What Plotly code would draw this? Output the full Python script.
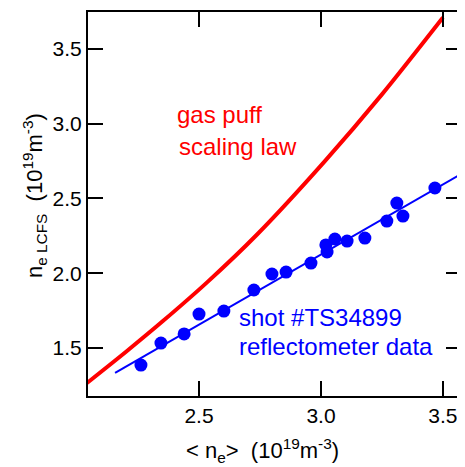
import plotly.graph_objects as go

# gas puff scaling law curve
law_x = [2.041, 2.201, 2.352, 2.533, 2.738, 3.016, 3.250, 3.500]
law_y = [1.266, 1.475, 1.680, 1.939, 2.259, 2.750, 3.196, 3.710]

# reflectometer data, shot #TS34899
data_x = [2.262, 2.344, 2.439, 2.500, 2.602, 2.725, 2.799, 2.857, 2.959,
          3.020, 3.025, 3.057, 3.107, 3.180, 3.270, 3.311, 3.336, 3.467]
data_y = [1.386, 1.533, 1.594, 1.727, 1.747, 1.888, 1.995, 2.008, 2.068,
          2.189, 2.142, 2.229, 2.215, 2.235, 2.349, 2.469, 2.382, 2.570]

# linear fit to the data
fit_x = [2.156, 3.574]
fit_y = [1.333, 2.663]

x_ticks = [2.5, 3.0, 3.5]
y_ticks = [1.5, 2.0, 2.5, 3.0, 3.5]

FONT = "Liberation Sans, Arial, Helvetica, sans-serif"

fig = go.Figure()
fig.add_trace(go.Scatter(x=law_x, y=law_y, mode="lines", line=dict(color="#ff0000", width=4, shape="spline", smoothing=0.8),
                         showlegend=False, hoverinfo="skip"))
fig.add_trace(go.Scatter(x=fit_x, y=fit_y, mode="lines", line=dict(color="#0000ff", width=2),
                         showlegend=False, hoverinfo="skip"))
fig.add_trace(go.Scatter(x=data_x, y=data_y, mode="markers", marker=dict(color="#0000ff", size=13),
                         showlegend=False))

axis_common = dict(showgrid=False, zeroline=False, showline=True, linecolor="black", linewidth=2,
                   mirror="ticks", ticks="inside", ticklen=15, tickwidth=2, tickcolor="black",
                   automargin=False,
                   tickfont=dict(family=FONT, size=21, color="black"))

fig.update_xaxes(range=[2.045, 3.574], tickvals=x_ticks, ticktext=[f"{v:.1f}" for v in x_ticks],
                 **axis_common)
fig.update_yaxes(range=[1.179, 3.747], tickvals=y_ticks, ticktext=[f"{v:.1f}" for v in y_ticks],
                 **axis_common)

title_font = dict(family=FONT, size=22, color="black")
fig.add_annotation(x=0.468, y=-0.143, xref="paper", yref="paper",
                   text="&lt; n<sub>e</sub>&gt;  (10<sup>19</sup>m<sup>-3</sup>)",
                   showarrow=False, xanchor="center", yanchor="middle", font=title_font)
fig.add_annotation(x=-0.145, y=0.523, xref="paper", yref="paper", textangle=-90,
                   text="n<sub>e LCFS</sub>  (10<sup>19</sup>m<sup>-3</sup>)",
                   showarrow=False, xanchor="center", yanchor="middle", font=title_font)

ann_font_red = dict(family=FONT, size=24, color="#ff0000")
ann_font_blue = dict(family=FONT, size=24, color="#0000ff")
fig.add_annotation(x=2.4, y=3.06, xref="x", yref="y", text="gas puff", showarrow=False,
                   xanchor="left", yanchor="middle", font=ann_font_red)
fig.add_annotation(x=2.408, y=2.846, xref="x", yref="y", text="scaling law", showarrow=False,
                   xanchor="left", yanchor="middle", font=ann_font_red)
fig.add_annotation(x=2.656, y=1.703, xref="x", yref="y", text="shot #TS34899", showarrow=False,
                   xanchor="left", yanchor="middle", font=ann_font_blue)
fig.add_annotation(x=2.656, y=1.509, xref="x", yref="y", text="reflectometer data", showarrow=False,
                   xanchor="left", yanchor="middle", font=ann_font_blue)

# The page body adds an 8px offset, so the figure is sized to fit inside the window.
fig.update_layout(width=457, height=459, margin=dict(l=80, r=4, t=4, b=71),
                  plot_bgcolor="white", paper_bgcolor="white", font=dict(family=FONT))

fig.write_html("out.html")
